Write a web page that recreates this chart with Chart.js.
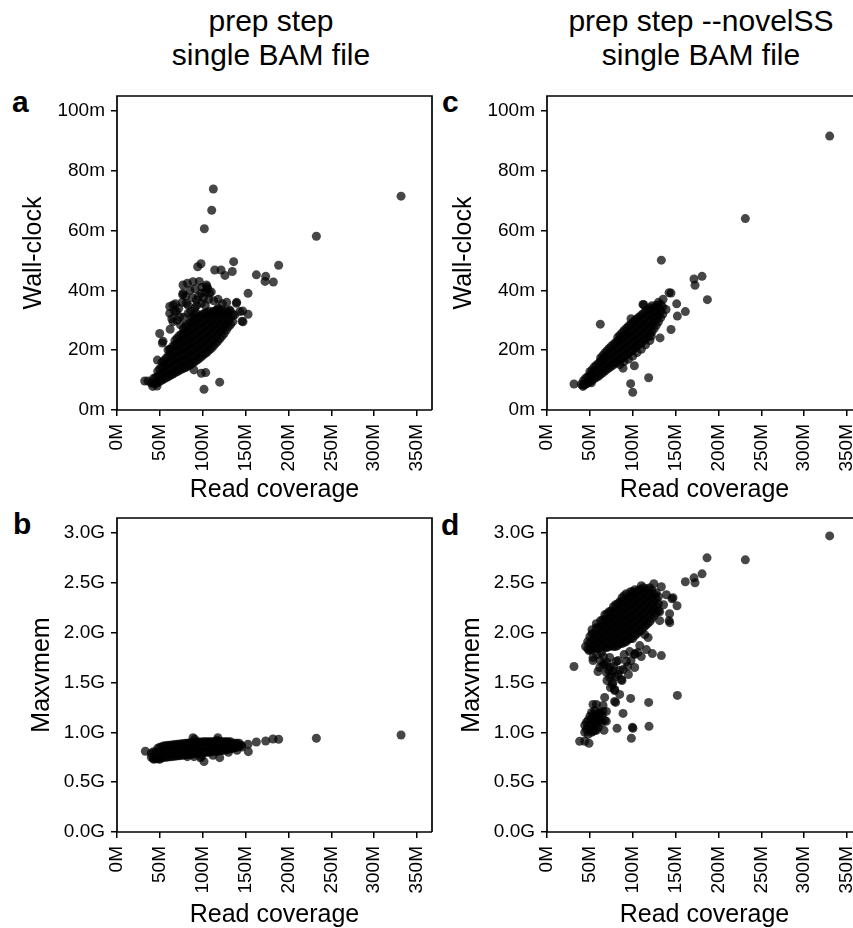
<!DOCTYPE html>
<html>
<head>
<meta charset="utf-8">
<script src="https://cdn.jsdelivr.net/npm/chart.js@4.4.1/dist/chart.umd.min.js"></script>
<style>
html, body { margin: 0; padding: 0; background: #fff; overflow: hidden; }
#fig { width: 853px; height: 928px; position: relative; overflow: hidden; font-family: 'Liberation Sans', Arial, sans-serif; color: #000; }
.panel { position: absolute; width: 440px; overflow: hidden; }
.panel.right { width: 423px; }
.title { position: absolute; top: 4px; width: 340px; text-align: center; font-size: 30px; line-height: 34px; white-space: nowrap; }
.tag { position: absolute; font-weight: bold; font-size: 30px; line-height: 30px; }
</style>
</head>
<body>
<div id="fig">
<div class="title" style="left:101px">prep step<br>single BAM file</div>
<div class="title" style="left:531px">prep step --novelSS<br>single BAM file</div>
<div class="tag" style="left:12px;top:87px">a</div>
<div class="tag" style="left:13px;top:509px">b</div>
<div class="tag" style="left:442px;top:87px">c</div>
<div class="tag" style="left:441px;top:510px">d</div>
<div class="panel" style="left:0;top:86px;height:417px"><canvas id="chartA" width="440" height="417"></canvas></div>
<div class="panel" style="left:0;top:508px;height:420px"><canvas id="chartB" width="440" height="420"></canvas></div>
<div class="panel right" style="left:430px;top:86px;height:417px"><canvas id="chartC" width="440" height="417"></canvas></div>
<div class="panel right" style="left:430px;top:508px;height:420px"><canvas id="chartD" width="440" height="420"></canvas></div>
</div>
<script>
const coverageTicks = [0, 50, 100, 150, 200, 250, 300, 350];
const wallTicks = [0, 20, 40, 60, 80, 100];
const memTicks = [0, 0.5, 1.0, 1.5, 2.0, 2.5, 3.0];

// [read coverage (M), wall-clock (min)] - prep step
const prepWallclock = [
  [40,9.0],[45,8.8],[45,10.9],[50,9.6],[50,11.8],[50,13.8],
  [55,10.4],[55,12.7],[55,15.0],[55,16.6],[60,11.2],[60,13.5],[60,15.8],[60,18.2],
  [65,12.0],[65,14.4],[65,16.7],[65,19.0],[65,21.3],
  [70,12.8],[70,15.2],[70,17.6],[70,19.9],[70,22.2],[70,24.0],
  [75,13.6],[75,15.9],[75,18.3],[75,20.6],[75,23.0],[75,25.3],
  [80,14.2],[80,16.6],[80,19.0],[80,21.4],[80,23.7],[80,26.0],[80,28.0],
  [85,15.0],[85,17.4],[85,19.8],[85,22.2],[85,24.5],[85,26.8],[85,29.2],
  [90,16.0],[90,18.3],[90,20.6],[90,23.0],[90,25.4],[90,27.7],[90,30.0],[90,31.8],
  [95,17.0],[95,19.3],[95,21.6],[95,24.0],[95,26.3],[95,28.6],[95,31.0],
  [100,18.2],[100,20.5],[100,22.8],[100,25.2],[100,27.5],[100,29.8],[100,32.0],
  [105,19.3],[105,21.6],[105,23.9],[105,26.2],[105,28.5],[105,30.8],[105,32.6],
  [110,20.6],[110,22.9],[110,25.2],[110,27.5],[110,29.8],[110,32.0],
  [115,22.2],[115,24.5],[115,26.8],[115,29.1],[115,31.4],[115,33.2],
  [120,23.8],[120,26.1],[120,28.4],[120,30.7],[120,32.9],
  [125,25.6],[125,27.9],[125,30.2],[125,32.5],[130,27.8],[130,30.0],[130,32.4],[135,29.5],[135,31.5],
  [42.5,9.0],[42.5,10.5],[47.5,9.2],[47.5,11.3],[47.5,13.0],
  [52.5,10.0],[52.5,12.2],[52.5,14.4],[52.5,16.0],[57.5,10.8],[57.5,13.1],[57.5,15.4],[57.5,17.4],
  [62.5,11.6],[62.5,14.0],[62.5,16.2],[62.5,18.6],[62.5,20.3],
  [67.5,12.4],[67.5,14.8],[67.5,17.1],[67.5,19.5],[67.5,21.8],[67.5,23.2],
  [72.5,13.2],[72.5,15.6],[72.5,17.9],[72.5,20.3],[72.5,22.6],[72.5,24.8],
  [77.5,13.9],[77.5,16.2],[77.5,18.6],[77.5,21.0],[77.5,23.3],[77.5,25.7],[77.5,27.2],
  [82.5,14.6],[82.5,17.0],[82.5,19.4],[82.5,21.8],[82.5,24.1],[82.5,26.4],[82.5,28.6],
  [87.5,15.5],[87.5,17.8],[87.5,20.2],[87.5,22.6],[87.5,25.0],[87.5,27.3],[87.5,29.6],[87.5,31.0],
  [92.5,16.5],[92.5,18.8],[92.5,21.1],[92.5,23.5],[92.5,25.8],[92.5,28.2],[92.5,30.5],[92.5,32.4],
  [97.5,17.6],[97.5,19.9],[97.5,22.2],[97.5,24.6],[97.5,26.9],[97.5,29.2],[97.5,31.5],
  [102.5,18.8],[102.5,21.0],[102.5,23.4],[102.5,25.7],[102.5,28.0],[102.5,30.3],[102.5,32.4],
  [107.5,20.0],[107.5,22.2],[107.5,24.6],[107.5,26.9],[107.5,29.2],[107.5,31.4],[107.5,33.0],
  [112.5,21.4],[112.5,23.7],[112.5,26.0],[112.5,28.3],[112.5,30.6],[112.5,32.6],
  [117.5,23.0],[117.5,25.3],[117.5,27.6],[117.5,29.9],[117.5,32.2],[117.5,33.6],
  [122.5,24.7],[122.5,27.0],[122.5,29.3],[122.5,31.6],[122.5,33.5],
  [127.5,26.7],[127.5,29.0],[127.5,31.3],[127.5,33.2],[132.5,28.6],[132.5,31.0],[132.5,33.0],
  [62,27],[64,30.5],[67,33],[70,30],[72,34],[74,28.5],[76,36],[78,31],[80,38],[83,35],[85,40],
  [86,33],[88,37.5],[91,40.5],[93,35],[95,38],[96,43],[99,41],[101,37.5],[103,35],[107,37],
  [110,39.5],[113,36.5],[118,37],[123,35.5],[128,36],
  [32.3,9.7],[36.2,9.7],[41.7,7.9],[46.7,8.0],[47.1,16.7],[49.8,25.6],[52.9,22.4],[53.7,23.0],
  [59.5,20.1],[61.5,20.3],[61.5,34.6],[61.5,32.3],[65.3,35.1],[65.3,29.5],[68.1,35.5],[69.3,32.9],
  [73.2,31.2],[76.6,38.5],[77,41.8],[77,39],[80.9,35.7],[82.1,42.4],[82.9,32.3],[88.7,42.9],
  [89.8,13.4],[90.6,34],[92.6,36.8],[94.1,47.9],[98,48.9],[98.4,39],[98.4,35.7],[98.4,12.3],
  [101.5,6.9],[101.9,60.6],[103.5,12.5],[104.3,41.8],[105,41.2],[106,40.5],[103,39.5],[108,39],
  [110.5,66.8],[112,32.9],[112.4,73.9],[114,46.8],[117.8,34],[119.8,9.3],[121.4,46.8],[126,45],
  [131.5,33.4],[134.5,46.3],[136.1,49.6],[137.4,31.8],[139.3,35.7],[139.6,36],[143.2,32.9],
  [145.8,29.7],[146.6,33.1],[147,29.5],[152.9,39],[152.9,32],[162.6,45.2],[172.7,43],[173.5,44.7],
  [182.4,42.8],[188.6,48.4],[232.6,58.1],[331.4,71.5]
];

// [read coverage (M), max memory (G)] - prep step
const prepMaxvmem = [
  [40,0.75],[40,0.79],[45,0.735],[45,0.80],[50,0.74],[50,0.805],[50,0.85],
  [55,0.75],[55,0.815],[55,0.865],[60,0.755],[60,0.82],[60,0.87],[65,0.76],[65,0.825],[65,0.875],
  [70,0.765],[70,0.83],[70,0.88],[75,0.77],[75,0.835],[75,0.885],[80,0.775],[80,0.84],[80,0.89],
  [85,0.78],[85,0.845],[85,0.895],[90,0.785],[90,0.85],[90,0.90],[95,0.79],[95,0.855],[95,0.905],
  [100,0.795],[100,0.86],[100,0.905],[105,0.80],[105,0.86],[105,0.905],[110,0.805],[110,0.865],[110,0.905],
  [115,0.81],[115,0.865],[115,0.905],[120,0.815],[120,0.87],[120,0.905],[125,0.82],[125,0.875],[125,0.905],
  [130,0.83],[130,0.88],[130,0.905],[135,0.84],[135,0.885],[140,0.85],[140,0.89],[145,0.87],
  [42.5,0.74],[42.5,0.805],[47.5,0.735],[47.5,0.79],[47.5,0.84],[52.5,0.745],[52.5,0.80],[52.5,0.855],
  [57.5,0.75],[57.5,0.81],[57.5,0.865],[62.5,0.755],[62.5,0.815],[62.5,0.87],[67.5,0.76],[67.5,0.82],[67.5,0.875],
  [72.5,0.765],[72.5,0.825],[72.5,0.88],[77.5,0.77],[77.5,0.83],[77.5,0.885],[82.5,0.775],[82.5,0.835],[82.5,0.89],
  [87.5,0.78],[87.5,0.84],[87.5,0.895],[92.5,0.79],[92.5,0.845],[92.5,0.90],[97.5,0.79],[97.5,0.85],[97.5,0.90],
  [102.5,0.80],[102.5,0.855],[102.5,0.905],[107.5,0.80],[107.5,0.86],[107.5,0.905],[112.5,0.81],[112.5,0.86],[112.5,0.905],
  [117.5,0.81],[117.5,0.865],[117.5,0.905],[122.5,0.82],[122.5,0.87],[122.5,0.905],[127.5,0.825],[127.5,0.875],[127.5,0.905],
  [132.5,0.835],[132.5,0.88],[132.5,0.905],[137.5,0.845],[137.5,0.89],[142.5,0.86],[142.5,0.89],
  [33.1,0.81],[42.8,0.73],[49.8,0.73],[82.1,0.756],[89.8,0.756],[90.6,0.93],[88.7,0.946],[98.4,0.756],
  [97.3,0.745],[101.5,0.706],[112,0.77],[116.7,0.92],[117.7,0.946],[119.8,0.746],[130,0.80],[140,0.82],
  [145.8,0.853],[152.9,0.88],[153.2,0.806],[162.6,0.903],[173.5,0.913],[182,0.933],[188.6,0.93],
  [232.6,0.94],[331.4,0.973]
];

// [read coverage (M), wall-clock (min)] - prep step --novelSS
const novelWallclock = [
  [40,8.6],[45,8.7],[45,10.6],[50,9.4],[50,11.6],[50,12.8],[55,10.4],[55,12.6],[55,14.4],
  [60,11.3],[60,13.5],[60,15.6],[65,12.4],[65,14.6],[65,16.9],[65,18.2],
  [70,13.6],[70,15.9],[70,18.2],[70,19.8],[75,14.6],[75,16.9],[75,19.2],[75,21.3],
  [80,15.7],[80,18.0],[80,20.3],[80,22.6],[85,15.2],[85,16.8],[85,19.1],[85,21.4],[85,23.7],[85,25.0],
  [90,16.2],[90,17.9],[90,20.2],[90,22.5],[90,24.8],[90,26.6],[95,17.0],[95,19.0],[95,21.3],[95,23.6],[95,25.9],[95,28.0],
  [100,18.0],[100,20.1],[100,22.4],[100,24.7],[100,27.0],[100,29.3],[105,19.2],[105,21.3],[105,23.6],[105,25.9],[105,28.2],[105,30.5],
  [110,20.3],[110,22.5],[110,24.8],[110,27.1],[110,29.4],[110,31.7],[115,21.8],[115,23.8],[115,26.1],[115,28.4],[115,30.7],[115,33.0],
  [120,23.2],[120,25.3],[120,27.6],[120,29.9],[120,32.2],[120,34.2],[125,27.2],[125,29.5],[125,31.8],[125,34.1],
  [130,29.5],[130,31.8],[130,34.2],[130,36.0],[135,32.0],[135,34.5],
  [42.5,8.3],[42.5,9.8],[47.5,9.0],[47.5,11.1],[52.5,9.9],[52.5,12.1],[52.5,13.4],
  [57.5,10.9],[57.5,13.1],[57.5,15.0],[62.5,11.9],[62.5,14.1],[62.5,16.3],[62.5,17.4],
  [67.5,13.0],[67.5,15.2],[67.5,17.5],[67.5,19.1],[72.5,14.1],[72.5,16.4],[72.5,18.7],[72.5,20.6],
  [77.5,15.1],[77.5,17.4],[77.5,19.7],[77.5,21.9],[82.5,16.2],[82.5,18.5],[82.5,20.8],[82.5,23.1],[82.5,24.3],
  [87.5,17.3],[87.5,19.6],[87.5,21.9],[87.5,24.2],[87.5,25.8],[92.5,18.4],[92.5,20.7],[92.5,23.0],[92.5,25.3],[92.5,27.3],
  [97.5,19.5],[97.5,21.8],[97.5,24.1],[97.5,26.4],[97.5,28.6],[102.5,20.7],[102.5,23.0],[102.5,25.3],[102.5,27.6],[102.5,29.9],
  [107.5,21.9],[107.5,24.2],[107.5,26.5],[107.5,28.8],[107.5,31.1],[112.5,23.1],[112.5,25.4],[112.5,27.7],[112.5,30.0],[112.5,32.3],
  [117.5,24.5],[117.5,26.8],[117.5,29.1],[117.5,31.4],[117.5,33.6],[122.5,26.2],[122.5,28.5],[122.5,30.8],[122.5,33.1],[122.5,34.9],
  [127.5,28.3],[127.5,30.6],[127.5,32.9],[127.5,35.0],[132.5,30.8],[132.5,33.1],[132.5,35.3],
  [31.5,8.7],[42,7.9],[44.7,8.6],[51.8,9.1],[62.2,28.7],[88.7,14.0],[97.6,8.8],[100,5.9],
  [101.9,14.8],[98,30.5],[112,35.3],[112.8,35.2],[118.6,10.8],[121.7,24.7],[131.9,24.1],[133.4,50.1],
  [135.4,37],[138.9,33.6],[142.4,39.2],[144.7,39.1],[144.7,26.9],[151.3,35.5],[152.1,31.4],
  [161.4,32.9],[171.5,43.8],[172.7,41.7],[180.9,44.7],[187.1,36.9],[231.4,64],[329.8,91.6]
];

// [read coverage (M), max memory (G)] - prep step --novelSS
const novelMaxvmem = [
  [45,1.86],[50,1.83],[50,1.90],[50,1.96],[55,1.85],[55,1.92],[55,1.99],
  [60,1.84],[60,1.91],[60,1.98],[60,2.05],[65,1.86],[65,1.93],[65,2.00],[65,2.07],[65,2.13],
  [70,1.85],[70,1.92],[70,1.99],[70,2.06],[70,2.13],[70,2.19],
  [75,1.87],[75,1.94],[75,2.01],[75,2.08],[75,2.15],[75,2.22],
  [80,1.86],[80,1.93],[80,2.00],[80,2.07],[80,2.14],[80,2.21],[80,2.28],
  [85,1.89],[85,1.96],[85,2.03],[85,2.10],[85,2.17],[85,2.24],[85,2.31],
  [90,1.90],[90,1.97],[90,2.04],[90,2.11],[90,2.18],[90,2.25],[90,2.32],[90,2.37],
  [95,1.93],[95,2.00],[95,2.07],[95,2.14],[95,2.21],[95,2.28],[95,2.35],
  [100,1.94],[100,2.01],[100,2.08],[100,2.15],[100,2.22],[100,2.29],[100,2.36],[100,2.41],
  [105,1.99],[105,2.06],[105,2.13],[105,2.20],[105,2.27],[105,2.34],[105,2.41],
  [110,2.02],[110,2.09],[110,2.16],[110,2.23],[110,2.30],[110,2.37],[110,2.43],
  [115,2.07],[115,2.14],[115,2.21],[115,2.28],[115,2.35],[115,2.42],
  [120,2.11],[120,2.18],[120,2.25],[120,2.32],[120,2.39],[120,2.45],
  [125,2.17],[125,2.24],[125,2.31],[125,2.38],[130,2.22],[130,2.29],[130,2.36],
  [47.5,1.84],[47.5,1.91],[52.5,1.85],[52.5,1.92],[52.5,1.99],[52.5,2.03],
  [57.5,1.84],[57.5,1.91],[57.5,1.98],[57.5,2.05],[57.5,2.09],[62.5,1.85],[62.5,1.92],[62.5,1.99],[62.5,2.06],[62.5,2.12],
  [67.5,1.85],[67.5,1.92],[67.5,1.99],[67.5,2.06],[67.5,2.13],[67.5,2.18],
  [72.5,1.86],[72.5,1.93],[72.5,2.00],[72.5,2.07],[72.5,2.14],[72.5,2.21],
  [77.5,1.86],[77.5,1.93],[77.5,2.00],[77.5,2.07],[77.5,2.14],[77.5,2.21],[77.5,2.26],
  [82.5,1.87],[82.5,1.94],[82.5,2.01],[82.5,2.08],[82.5,2.15],[82.5,2.22],[82.5,2.29],
  [87.5,1.89],[87.5,1.96],[87.5,2.03],[87.5,2.10],[87.5,2.17],[87.5,2.24],[87.5,2.31],[87.5,2.35],
  [92.5,1.91],[92.5,1.98],[92.5,2.05],[92.5,2.12],[92.5,2.19],[92.5,2.26],[92.5,2.33],[92.5,2.39],
  [97.5,1.94],[97.5,2.01],[97.5,2.08],[97.5,2.15],[97.5,2.22],[97.5,2.29],[97.5,2.36],[97.5,2.41],
  [102.5,1.97],[102.5,2.04],[102.5,2.11],[102.5,2.18],[102.5,2.25],[102.5,2.32],[102.5,2.39],[102.5,2.43],
  [107.5,2.01],[107.5,2.08],[107.5,2.15],[107.5,2.22],[107.5,2.29],[107.5,2.36],[107.5,2.43],
  [112.5,2.05],[112.5,2.12],[112.5,2.19],[112.5,2.26],[112.5,2.33],[112.5,2.40],[112.5,2.45],
  [117.5,2.09],[117.5,2.16],[117.5,2.23],[117.5,2.30],[117.5,2.37],[117.5,2.44],
  [122.5,2.14],[122.5,2.21],[122.5,2.28],[122.5,2.35],[122.5,2.42],[127.5,2.20],[127.5,2.27],[127.5,2.34],[127.5,2.40],
  [58,1.78],[62,1.72],[66,1.76],[70,1.70],[72,1.62],[75,1.58],[78,1.66],[80,1.56],[83,1.72],[85,1.62],
  [90,1.78],[94,1.66],[98,1.72],[106,1.80],[110,1.76],[95,1.58],[74,1.45],[70,1.52],
  [44,1.0],[44,1.07],[48,0.98],[48,1.05],[48,1.12],[52,1.0],[52,1.07],[52,1.14],[52,1.2],
  [56,1.02],[56,1.09],[56,1.16],[56,1.22],[60,1.05],[60,1.12],[60,1.19],[64,1.1],[64,1.17],
  [46,1.03],[46,1.10],[50,1.02],[50,1.09],[50,1.16],[54,1.04],[54,1.11],[54,1.18],[58,1.07],[58,1.14],[62,1.12],[62,1.19],
  [38.1,0.91],[44,0.91],[49,0.89],[53.7,1.01],[57.6,1.02],[65.3,1.21],[69.2,1.11],[66.5,1.02],
  [53.7,1.28],[57.6,1.28],[61.5,1.2],[65.4,1.27],[67.3,1.12],[69.3,1.21],
  [31.5,1.66],[49,1.82],[51.8,1.83],[53.7,1.75],[53.7,1.72],[59.5,1.61],[61.5,1.65],[63.4,1.80],
  [65.3,1.68],[67.3,1.68],[69.3,1.60],[73.1,1.75],[73.2,1.55],[73.2,1.65],[76.2,1.48],[77,1.62],
  [77,1.50],[79,1.42],[80.9,1.71],[82.9,1.58],[84.8,1.38],[86.8,1.53],[87.5,1.52],[88.7,1.63],
  [92.6,1.71],[96.5,1.81],[102.3,1.78],[102.3,1.65],[102.7,1.79],[108.2,1.87],[114.1,1.98],
  [116,1.83],[118,1.95],[122.9,1.79],[133.4,1.77],[78.9,1.43],[67.3,1.35],[78.9,1.31],[80.1,1.30],
  [97.6,1.34],[118.6,1.30],[152.1,1.37],[88.7,1.19],[81.7,1.04],[99.6,1.05],[100.3,1.04],[119,1.06],
  [98.4,0.94],[110.1,2.47],[124.7,2.49],[133.4,2.46],[139.3,2.38],[142.4,2.12],[143,2.19],
  [145.8,2.34],[147,2.35],[151.7,2.27],[143.2,2.10],[131.5,2.12],[131.5,2.21],[136,2.28],
  [161.4,2.51],[171.5,2.55],[172.7,2.50],[180.9,2.59],[186.7,2.75],[231.4,2.73],[329.8,2.97]
];

const FONT = "'Liberation Sans', Arial, Helvetica, sans-serif";

// panel box around the plotting area
const frame = {
  id: 'frame',
  afterDatasetsDraw(chart) {
    const a = chart.chartArea;
    const c = chart.ctx;
    c.save();
    c.strokeStyle = '#000';
    c.lineWidth = 1.7;
    c.beginPath();
    c.moveTo(a.right, a.bottom);
    c.lineTo(a.left, a.bottom);
    c.lineTo(a.left, a.top);
    c.lineTo(a.right, a.top);
    c.lineTo(a.right, a.bottom);
    c.stroke();
    c.restore();
  }
};

function makeChart(id, points, yTicks, yMax, yLabel, yFmt, yTitlePad, xAxisH) {
  return new Chart(document.getElementById(id).getContext('2d'), {
    type: 'scatter',
    data: {
      datasets: [{
        data: points.map(p => ({ x: p[0], y: p[1] })),
        backgroundColor: 'rgba(0,0,0,0.72)',
        borderWidth: 0,
        pointRadius: 4.5
      }]
    },
    options: {
      responsive: false,
      animation: false,
      events: [],
      layout: { padding: { top: 10, right: 8, left: 0, bottom: 0 } },
      plugins: { legend: { display: false }, tooltip: { enabled: false } },
      scales: {
        x: {
          type: 'linear', min: 0, max: 367.5,
          afterBuildTicks: s => { s.ticks = coverageTicks.map(v => ({ value: v })); },
          afterFit: s => { s.height = xAxisH; s.paddingLeft = 0; s.paddingRight = 0; },
          border: { display: false },
          grid: { drawOnChartArea: false, color: '#000', lineWidth: 1.5, tickLength: 6 },
          ticks: { color: '#000', font: { family: FONT, size: 19 }, padding: 8,
                   minRotation: 90, maxRotation: 90, autoSkip: false,
                   callback: v => v + 'M' },
          title: { display: true, text: 'Read coverage', color: '#000',
                   font: { family: FONT, size: 25, lineHeight: 1 }, padding: { top: 0, bottom: 0 } }
        },
        y: {
          type: 'linear', min: 0, max: yMax,
          afterBuildTicks: s => { s.ticks = yTicks.map(v => ({ value: v })); },
          afterFit: s => { s.width = 117; s.paddingTop = 0; s.paddingBottom = 0; },
          border: { display: false },
          grid: { drawOnChartArea: false, color: '#000', lineWidth: 1.5, tickLength: 6 },
          ticks: { color: '#000', font: { family: FONT, size: 19 }, padding: 6, callback: yFmt },
          title: { display: true, text: yLabel, color: '#000',
                   font: { family: FONT, size: 25, lineHeight: 1 }, padding: { top: yTitlePad, bottom: 0 } }
        }
      }
    },
    plugins: [frame]
  });
}

const fmtMin = v => v + 'm';
const fmtMem = v => v.toFixed(1) + 'G';

makeChart('chartA', prepWallclock, wallTicks, 105, 'Wall-clock', fmtMin, 22, 93);
makeChart('chartB', prepMaxvmem, memTicks, 3.15, 'Maxvmem', fmtMem, 30, 96);
makeChart('chartC', novelWallclock, wallTicks, 105, 'Wall-clock', fmtMin, 22, 93);
makeChart('chartD', novelMaxvmem, memTicks, 3.15, 'Maxvmem', fmtMem, 30, 96);
</script>
</body>
</html>
